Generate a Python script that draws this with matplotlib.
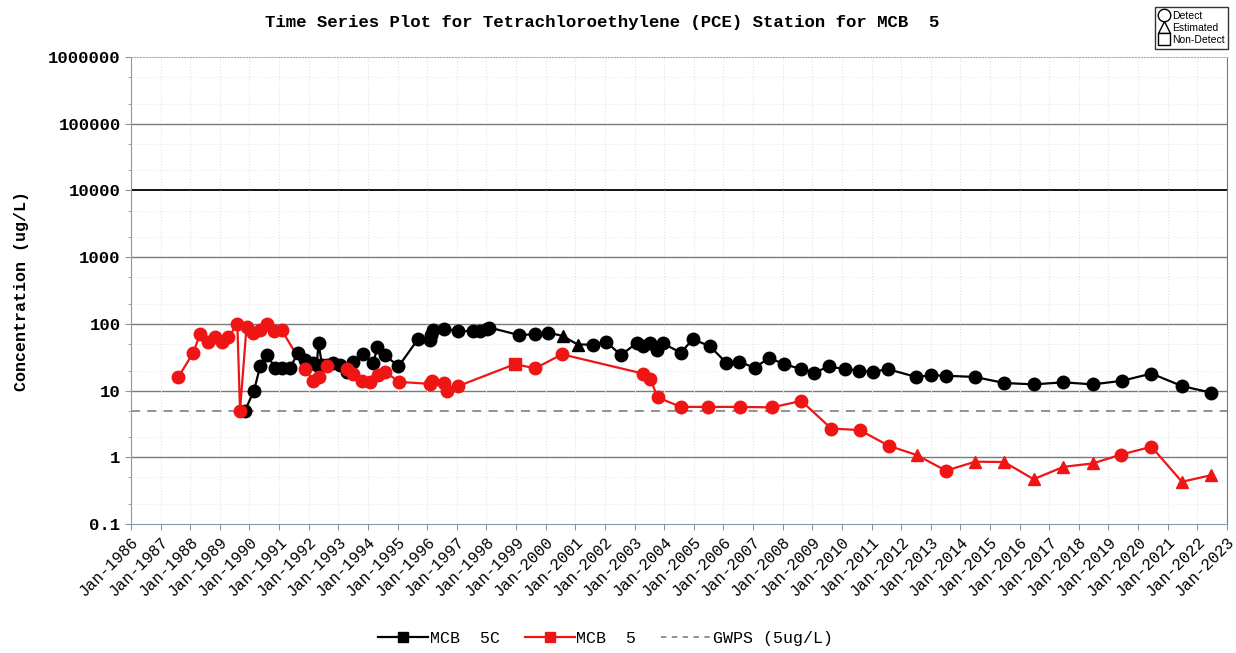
import matplotlib
matplotlib.use("Agg")
import matplotlib.pyplot as plt
from matplotlib.lines import Line2D
from matplotlib.ticker import FixedLocator, LogLocator, NullFormatter

# MCB 5C (black)
mcb5c_t = [1989.85, 1990.15, 1990.36, 1990.6, 1990.86, 1991.1, 1991.37, 1991.63, 1991.88,
           1992.16, 1992.27, 1992.33, 1992.45, 1992.6, 1992.83, 1993.06, 1993.28, 1993.5,
           1993.84, 1994.18, 1994.32, 1994.58, 1995.03, 1995.7, 1996.1, 1996.12, 1996.2,
           1996.55, 1997.05, 1997.56, 1997.78, 1998.03, 1998.1, 1999.1, 1999.64, 2000.09,
           2000.57, 2001.08, 2001.61, 2002.04, 2002.54, 2003.08, 2003.3, 2003.53, 2003.76,
           2003.96, 2004.56, 2004.97, 2005.55, 2006.1, 2006.54, 2007.05, 2007.55, 2008.03,
           2008.63, 2009.07, 2009.55, 2010.11, 2010.58, 2011.04, 2011.54, 2012.51, 2013.02,
           2013.53, 2014.49, 2015.48, 2016.47, 2017.48, 2018.47, 2019.45, 2020.45, 2021.48,
           2022.47]
mcb5c_v = [5, 10, 23, 34, 22, 22, 22, 36, 29,
           26, 24, 51, 24, 24, 26, 24, 19, 27,
           35, 26, 45, 34, 23, 60, 58, 68, 80,
           85, 78, 78, 78, 84, 88, 68, 70, 74,
           66, 49, 49, 54, 34, 52, 46, 52, 40,
           51, 37, 59, 46, 26, 27, 22, 31, 25,
           21, 18.5, 23, 21, 20, 19, 21, 16, 17,
           16.7, 16, 13, 12.4, 13.3, 12.4, 14, 18, 11.7,
           9.3]
mcb5c_q = ["D"] * len(mcb5c_t)
mcb5c_q[36] = "E"
mcb5c_q[37] = "E"

# MCB 5 (red)
mcb5_t = [1987.6, 1988.1, 1988.33, 1988.61, 1988.84, 1989.06, 1989.29, 1989.59, 1989.68,
          1989.9, 1990.13, 1990.36, 1990.6, 1990.83, 1991.09, 1991.88, 1992.16, 1992.33,
          1992.6, 1993.28, 1993.5, 1993.79, 1994.07, 1994.35, 1994.58, 1995.06, 1996.1,
          1996.15, 1996.55, 1996.66, 1997.05, 1998.97, 1999.64, 2000.55, 2003.28, 2003.53,
          2003.78, 2004.56, 2005.49, 2006.57, 2007.64, 2008.63, 2009.64, 2010.6, 2011.58,
          2012.53, 2013.51, 2014.5, 2015.48, 2016.47, 2017.48, 2018.47, 2019.43, 2020.45,
          2021.48, 2022.47]
mcb5_v = [16, 37, 70, 53, 64, 54, 64, 99, 5,
          90, 74, 80, 99, 78, 80, 21, 14, 16,
          23, 21, 18, 14, 13.5, 17, 19, 13.5, 12.6,
          14, 13, 10, 11.7, 25, 21.5, 35, 18, 15,
          7.9, 5.7, 5.7, 5.7, 5.6, 7.0, 2.7, 2.56, 1.49,
          1.08, 0.63, 0.86, 0.85, 0.47, 0.72, 0.81, 1.1, 1.44,
          0.43, 0.54]
mcb5_q = ["D"] * len(mcb5_t)
mcb5_q[31] = "N"
for i in [45, 47, 48, 49, 50, 51, 54, 55]:
    mcb5_q[i] = "E"

gwps = 5
years = list(range(1986, 2024))
ylevels = [0.1, 1, 10, 100, 1000, 10000, 100000, 1000000]
ylabels = ["0.1", "1", "10", "100", "1000", "10000", "100000", "1000000"]

mono = "Liberation Mono"
qmark = {"D": "o", "E": "^", "N": "s"}

fig = plt.figure(figsize=(12.36, 6.53), dpi=100)
ax = fig.add_axes([0.106, 0.1975, 0.8867, 0.7152])

def draw(t, v, q, color):
    ax.plot(t, v, color=color, lw=1.6, zorder=3)
    for kind in "DEN":
        xs = [a for a, k in zip(t, q) if k == kind]
        ys = [b for b, k in zip(v, q) if k == kind]
        ax.plot(xs, ys, ls="none", marker=qmark[kind], ms=9, color=color, zorder=4)

draw(mcb5c_t, mcb5c_v, mcb5c_q, "black")
draw(mcb5_t, mcb5_v, mcb5_q, "#f01515")
ax.axhline(gwps, color="#8a8a8a", lw=1.3, ls=(0, (5, 4)), zorder=2)

ax.set_yscale("log")
ax.set_ylim(0.1, 1000000)
ax.set_xlim(1986, 2023)
ax.yaxis.set_major_locator(FixedLocator(ylevels))
ax.set_yticklabels(ylabels, fontfamily=mono, fontweight="bold", fontsize=12.5)
ax.yaxis.set_minor_locator(LogLocator(subs=[2, 5]))
ax.yaxis.set_minor_formatter(NullFormatter())
ax.set_xticks(years)
ax.set_xticklabels(["Jan-%d" % y for y in years], rotation=45, ha="right",
                   rotation_mode="anchor", fontfamily=mono, fontsize=11.5)
ax.tick_params(axis="both", length=4, color="#8899aa")
ax.tick_params(axis="y", which="minor", length=2, color="#8899aa")

for lv in ylevels[1:-1]:
    ax.axhline(lv, color="black" if lv == 10000 else "#7a7a7a",
               lw=1.3 if lv == 10000 else 1.0, zorder=1)
ax.grid(axis="x", color="#e2e2e2", ls=":", lw=0.8)
ax.grid(axis="y", which="minor", color="#e8e8e8", ls=":", lw=0.6)

for s in ["left", "bottom"]:
    ax.spines[s].set_color("#8899aa")
ax.spines["top"].set_color("#9ab0c8")
ax.spines["top"].set_linestyle(":")
ax.spines["right"].set_color("#777777")

ax.set_ylabel("Concentration (ug/L)", fontfamily=mono, fontweight="bold", fontsize=12, labelpad=14)
fig.text(0.487, 0.965, "Time Series Plot for Tetrachloroethylene (PCE) Station for MCB  5",
         ha="center", va="center", fontfamily=mono, fontweight="bold", fontsize=12.5)

handles = [Line2D([], [], color="black", marker="s", ms=7, lw=1.6),
           Line2D([], [], color="#f01515", marker="s", ms=7, lw=1.6),
           Line2D([], [], color="#8a8a8a", lw=1.3, ls=(0, (3, 3)))]
fig.legend(handles, ["MCB  5C", "MCB  5", "GWPS (5ug/L)"], loc="center", ncol=3,
           bbox_to_anchor=(0.49, 0.022), frameon=False, handlelength=3,
           columnspacing=1.5, handletextpad=0.1, prop={"family": mono, "size": 12})

qh = [Line2D([], [], ls="none", marker=m, mfc="white", mec="black", ms=9)
      for m in ["o", "^", "s"]]
fig.legend(qh, ["Detect", "Estimated", "Non-Detect"], loc="upper right",
           bbox_to_anchor=(0.998, 0.997), frameon=True, fancybox=False, edgecolor="black",
           prop={"family": "Liberation Sans", "size": 7.5}, handlelength=1.0,
           handletextpad=0.3, labelspacing=0.2, borderpad=0.35)

fig.savefig("out.png", dpi=100)
